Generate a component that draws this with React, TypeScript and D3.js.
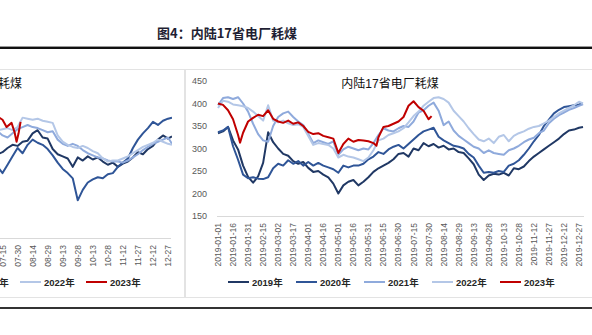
import React from "react";
import * as d3 from "d3";

// ---------- DATA ----------
const SERIES_NAMES = ["2019年", "2020年", "2021年", "2022年", "2023年"];
const SERIES_COLORS = ["#203864", "#2F5597", "#8FAADC", "#B4C7E7", "#C00000"];

// Right chart: 内陆17省电厂耗煤 (day of year, 5-day samples)
const DAYS_FULL = [...d3.range(0, 361, 5), 364];
const R2019 = [334,338,348,318,298,262,237,224,238,268, 336,314,300,288,284,272,266,270,257,248, 250,242,236,222,200,218,226,230,218,226, 236,248,256,262,268,276,288,290,282,300, 296,312,305,310,302,306,298,300,292,290, 278,265,242,230,240,244,242,246,240,256, 254,260,272,282,290,298,306,314,322,332, 340,342,346,348];
const R2020 = [336,340,348,305,275,242,234,236,233,232, 236,256,266,262,274,266,272,262,270,262, 268,262,258,254,246,262,258,262,262,266, 276,282,292,288,298,304,308,300,310,320, 330,338,342,346,326,318,312,306,304,300, 288,280,262,246,248,246,250,248,262,266, 274,286,300,316,330,350,364,378,386,392, 394,396,398,400];
const R2021 = [396,412,414,410,414,400,382,355,332,318, 315,350,370,378,382,370,360,352,332,312, 318,314,310,316,286,298,304,300,296,300, 298,312,330,345,340,338,345,350,348,360, 380,385,395,402,384,352,360,340,328,320, 312,304,300,290,296,290,288,286,296,300, 306,314,320,324,334,340,356,366,374,380, 386,390,395,398];
const R2022 = [390,406,404,398,396,394,390,382,372,362, 396,362,358,362,356,352,354,348,328,308, 312,310,308,300,280,286,282,280,276,272, 280,296,318,322,330,334,338,345,358,372, 382,395,404,412,414,410,402,384,372,360, 345,332,320,316,322,312,326,330,316,328, 334,338,344,348,350,356,362,370,378,384, 390,396,404,400];
const R2023_DAYS = [0,5,10,15,20,22,25,30,35,40,45,50,55,60,65,70,75,80,85,90,95,100,105,110,115,120,125,130,135,140,145,150,155,158,160,165,170,175,180,185,190,195,200,205,210,213];
const R2023 = [400,397,385,365,330,313,335,360,368,375,372,385,366,360,357,362,355,358,350,337,332,334,328,325,322,290,310,322,315,319,318,316,312,306,325,348,350,355,360,370,395,405,392,384,365,372];

// Left chart (partially visible), days 185..364
const DAYS_LEFT = [...d3.range(185, 361, 5), 364];
const L2019 = [176,180,182,186,189,188,192,193,200,203, 196,195,185,180,178,176,168,177,174,178, 175,177,173,170,172,168,171,173,177,182, 180,185,188,194,198,195,197];
const L2020 = [172,168,162,170,178,186,181,189,194,191, 189,185,179,172,166,162,157,136,146,153, 156,158,157,161,162,168,172,176,186,194, 200,205,211,208,212,214,215];
const L2021 = [204,202,198,196,200,204,206,208,206,205, 203,201,202,194,190,188,190,188,184,181, 179,177,176,174,173,173,172,174,177,180, 184,187,190,192,194,196,190];
const L2022 = [200,203,204,205,203,206,215,214,213,214, 212,211,210,198,192,189,187,186,188,186, 183,181,176,173,174,174,176,178,181,184, 187,189,191,194,192,190,189];
const L2023_DAYS = [185,190,195,199,204,207,209,211,213];
const L2023 = [218,216,213,206,210,201,192,200,211];

const Y_TICKS = [150, 200, 250, 300, 350, 400, 450];
const X_LABELS_RIGHT = ["2019-01-01","2019-01-16","2019-01-31","2019-02-15","2019-03-02","2019-03-17","2019-04-01","2019-04-16","2019-05-01","2019-05-16","2019-05-31","2019-06-15","2019-06-30","2019-07-15","2019-07-30","2019-08-14","2019-08-29","2019-09-13","2019-09-28","2019-10-13","2019-10-28","2019-11-12","2019-11-27","2019-12-12","2019-12-27"];
const X_LABELS_LEFT = ["01-01","01-16","01-31","02-15","03-02","03-17","04-01","04-16","05-01","05-16","05-31","06-15","06-30","07-15","07-30","08-14","08-29","09-13","09-28","10-13","10-28","11-12","11-27","12-12","12-27"];
const LABEL_STEP_DAYS = 15;

const FONT = "'Liberation Sans', 'Noto Sans CJK SC', sans-serif";

type S = { days: number[]; vals: number[]; color: string };

function Lines({ series, x, y }: { series: S[]; x: any; y: any }) {
  return (
    <g>
      {series.map((s, i) => {
        const pts = s.vals.map((v, j) => [s.days[j], v] as [number, number]);
        const line = d3.line<[number, number]>().x((p) => x(p[0])).y((p) => y(p[1]));
        return (
          <path key={i} d={line(pts) || ""} fill="none" stroke={s.color} strokeWidth={2} strokeLinejoin="round" />
        );
      })}
    </g>
  );
}

function Legend({ x0, step, yc }: { x0: number; step: number; yc: number }) {
  return (
    <g>
      {SERIES_NAMES.map((n, i) => {
        const lx = x0 + i * step;
        return (
          <g key={n}>
            <line x1={lx} x2={lx + 21} y1={yc} y2={yc} stroke={SERIES_COLORS[i]} strokeWidth={2} />
            <text x={lx + 24} y={yc} dominantBaseline="central" fontSize={9.5} fontWeight="bold" fill="#262626" fontFamily={FONT}>{n}</text>
          </g>
        );
      })}
    </g>
  );
}

export default function App() {
  // right chart scales
  const xR = d3.scaleLinear().domain([0, 364]).range([218, 583]);
  const yR = d3.scaleLinear().domain([150, 450]).range([216, 81]);
  // left chart scales (y axis off-screen)
  const xL = d3.scaleLinear().domain([0, 364]).range([-193, 172]);
  const yL = d3.scaleLinear().domain([100, 250]).range([238, 81]);

  const rightSeries: S[] = [
    { days: DAYS_FULL, vals: R2019, color: SERIES_COLORS[0] },
    { days: DAYS_FULL, vals: R2020, color: SERIES_COLORS[1] },
    { days: DAYS_FULL, vals: R2021, color: SERIES_COLORS[2] },
    { days: DAYS_FULL, vals: R2022, color: SERIES_COLORS[3] },
    { days: R2023_DAYS, vals: R2023, color: SERIES_COLORS[4] },
  ];
  const leftSeries: S[] = [
    { days: DAYS_LEFT, vals: L2019, color: SERIES_COLORS[0] },
    { days: DAYS_LEFT, vals: L2020, color: SERIES_COLORS[1] },
    { days: DAYS_LEFT, vals: L2021, color: SERIES_COLORS[2] },
    { days: DAYS_LEFT, vals: L2022, color: SERIES_COLORS[3] },
    { days: L2023_DAYS, vals: L2023, color: SERIES_COLORS[4] },
  ];

  return (
    <svg width={592} height={335} style={{ position: "absolute", left: 0, top: 0, display: "block", background: "#fff" }}>
      <defs>
        <clipPath id="clipL"><rect x={0} y={70} width={172} height={170} /></clipPath>
      </defs>
      {/* figure title */}
      <text x={227} y={32} textAnchor="middle" dominantBaseline="central" fontSize={13} fontWeight="bold" fill="#1f1f33" fontFamily="'Noto Sans CJK SC', serif">图4：内陆17省电厂耗煤</text>
      <rect x={0} y={46} width={592} height={1} fill="#999" />
      <rect x={0} y={47} width={592} height={2} fill="#111" />

      {/* panel frames */}
      <rect x={0} y={69} width={592} height={1} fill="#e3e3e3" />
      <rect x={0} y={297} width={592} height={1} fill="#e3e3e3" />
      <rect x={184} y={69} width={2} height={229} fill="#e3e3e3" />
      <rect x={0} y={307} width={592} height={2} fill="#333" />

      {/* LEFT chart */}
      <text x={22} y={84} textAnchor="end" dominantBaseline="central" fontSize={12} fill="#111" fontFamily={FONT}>沿海8省电厂耗煤</text>
      <line x1={0} x2={171} y1={238.5} y2={238.5} stroke="#d9d9d9" strokeWidth={1} />
      {X_LABELS_LEFT.map((l, i) => (
        <text key={l} transform={`translate(${xL(i * LABEL_STEP_DAYS)},245) rotate(-90)`} textAnchor="end" dominantBaseline="central" fontSize={8.5} fill="#595959" fontFamily={FONT}>{l}</text>
      ))}
      <g clipPath="url(#clipL)">
        <Lines series={leftSeries} x={xL} y={yL} />
      </g>
      <Legend x0={-178} step={66} yc={282} />

      {/* RIGHT chart */}
      <text x={390} y={84} textAnchor="middle" dominantBaseline="central" fontSize={12} fill="#111" fontFamily={FONT}>内陆17省电厂耗煤</text>
      {Y_TICKS.map((t) => (
        <text key={t} x={207} y={yR(t)} textAnchor="end" dominantBaseline="central" fontSize={9} fill="#595959" fontFamily={FONT}>{t}</text>
      ))}
      <line x1={217} x2={584} y1={216.5} y2={216.5} stroke="#d9d9d9" strokeWidth={1} />
      {X_LABELS_RIGHT.map((l, i) => (
        <text key={l} transform={`translate(${xR(i * LABEL_STEP_DAYS)},223) rotate(-90)`} textAnchor="end" dominantBaseline="central" fontSize={8.5} fill="#595959" fontFamily={FONT}>{l}</text>
      ))}
      <Lines series={rightSeries} x={xR} y={yR} />
      <Legend x0={228} step={68} yc={282} />
    </svg>
  );
}
